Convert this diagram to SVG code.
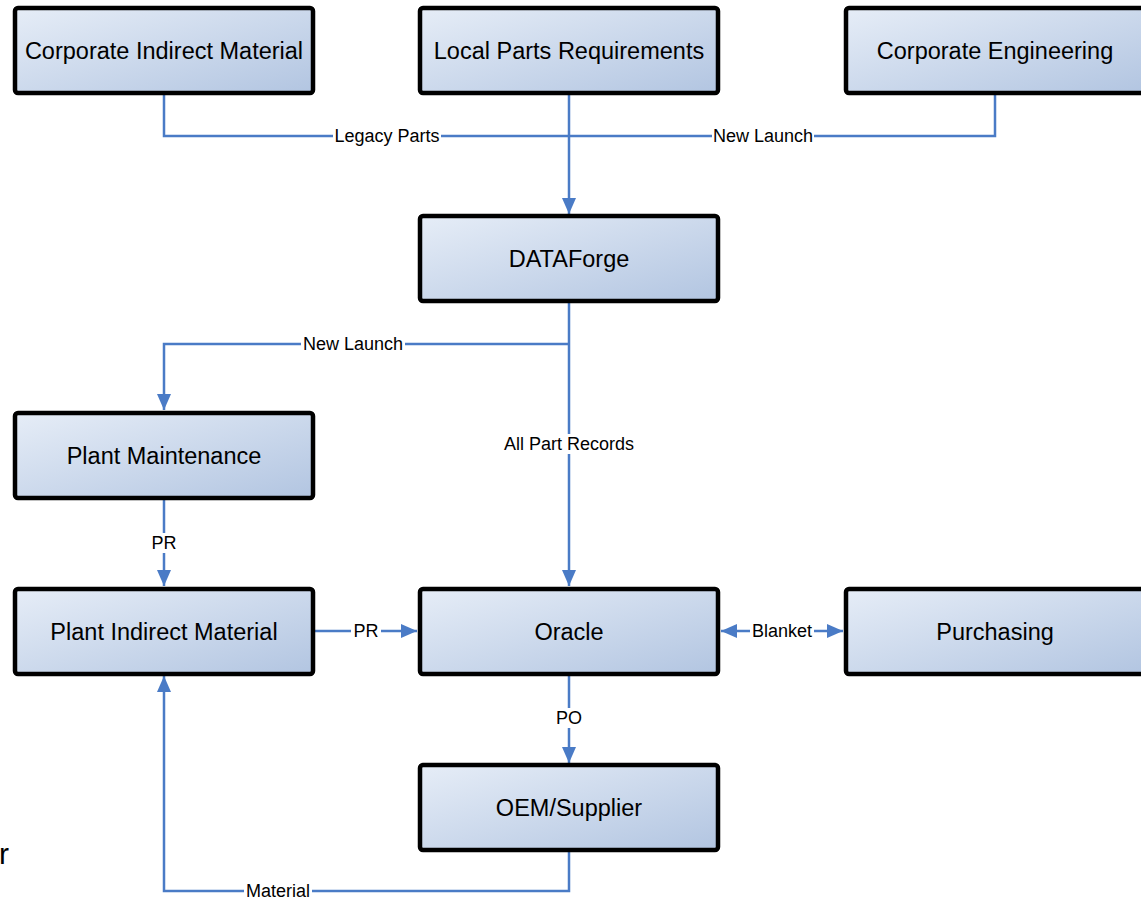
<svg xmlns="http://www.w3.org/2000/svg" width="1141" height="899" viewBox="0 0 1141 899">
<defs>
<linearGradient id="g" x1="0" y1="0" x2="1" y2="1">
<stop offset="0" stop-color="#e6edf7"/>
<stop offset="1" stop-color="#b2c5e1"/>
</linearGradient>
<marker id="a" viewBox="0 0 16 14" refX="16" refY="7" markerWidth="16" markerHeight="14" markerUnits="userSpaceOnUse" orient="auto-start-reverse">
<path d="M0,0 L16,7 L0,14 Z" fill="#4a7bc6"/>
</marker>
<style>
.box{fill:url(#g);stroke:#000;stroke-width:4.5;}
.nt{font-family:"Liberation Sans",Arial,sans-serif;font-size:23.5px;fill:#000;text-anchor:middle;}
.lt{font-family:"Liberation Sans",Arial,sans-serif;font-size:18px;fill:#000;text-anchor:middle;}
.c{fill:none;stroke:#4a7bc6;stroke-width:2.5;}
.bg{fill:#fff;}
</style>
</defs>
<rect width="1141" height="899" fill="#fff"/>
<g id="connectors">
<path class="c" d="M164,95 V136 H569"/>
<path class="c" d="M995,95 V136 H569"/>
<path class="c" d="M569,95 V214" marker-end="url(#a)"/>
<path class="c" d="M569,303 V586" marker-end="url(#a)"/>
<path class="c" d="M569,344 H164 V410" marker-end="url(#a)"/>
<path class="c" d="M164,500 V586" marker-end="url(#a)"/>
<path class="c" d="M315,631 H417" marker-end="url(#a)"/>
<path class="c" d="M721,631 H843" marker-start="url(#a)" marker-end="url(#a)"/>
<path class="c" d="M569,676 V763" marker-end="url(#a)"/>
<path class="c" d="M569,852 V891 H164 V676" marker-end="url(#a)"/>
<rect class="bg" x="333" y="127" width="108" height="18"/>
<text class="lt" x="387" y="142">Legacy Parts</text>
<rect class="bg" x="712" y="127" width="102" height="18"/>
<text class="lt" x="763" y="142">New Launch</text>
<rect class="bg" x="301" y="335" width="104" height="18"/>
<text class="lt" x="353" y="350">New Launch</text>
<rect class="bg" x="499" y="434" width="140" height="20"/>
<text class="lt" x="569" y="450">All Part Records</text>
<rect class="bg" x="149" y="533" width="30" height="20"/>
<text class="lt" x="164" y="549">PR</text>
<rect class="bg" x="351" y="622" width="30" height="18"/>
<text class="lt" x="366" y="637">PR</text>
<rect class="bg" x="750" y="622" width="64" height="18"/>
<text class="lt" x="782" y="637">Blanket</text>
<rect class="bg" x="553" y="708" width="32" height="20"/>
<text class="lt" x="569" y="724">PO</text>
<rect class="bg" x="244" y="882" width="68" height="17"/>
<text class="lt" x="278" y="897">Material</text>
</g>
<g id="corporate-indirect-material"><rect class="box" x="15" y="8" width="298" height="85" rx="3"/><text class="nt" x="164" y="58.5">Corporate Indirect Material</text></g>
<g id="local-parts-requirements"><rect class="box" x="420" y="8" width="298" height="85" rx="3"/><text class="nt" x="569" y="58.5">Local Parts Requirements</text></g>
<g id="corporate-engineering"><rect class="box" x="846" y="8" width="298" height="85" rx="3"/><text class="nt" x="995" y="58.5">Corporate Engineering</text></g>
<g id="dataforge"><rect class="box" x="420" y="216" width="298" height="85" rx="3"/><text class="nt" x="569" y="266.5">DATAForge</text></g>
<g id="plant-maintenance"><rect class="box" x="15" y="413" width="298" height="85" rx="3"/><text class="nt" x="164" y="463.5">Plant Maintenance</text></g>
<g id="plant-indirect-material"><rect class="box" x="15" y="589" width="298" height="85" rx="3"/><text class="nt" x="164" y="639.5">Plant Indirect Material</text></g>
<g id="oracle"><rect class="box" x="420" y="589" width="298" height="85" rx="3"/><text class="nt" x="569" y="639.5">Oracle</text></g>
<g id="purchasing"><rect class="box" x="846" y="589" width="298" height="85" rx="3"/><text class="nt" x="995" y="639.5">Purchasing</text></g>
<g id="oem-supplier"><rect class="box" x="420" y="765" width="298" height="85" rx="3"/><text class="nt" x="569" y="815.5">OEM/Supplier</text></g>
<text x="-1" y="864" font-family="Liberation Sans, Arial, sans-serif" font-size="30" fill="#000">r</text>
</svg>
